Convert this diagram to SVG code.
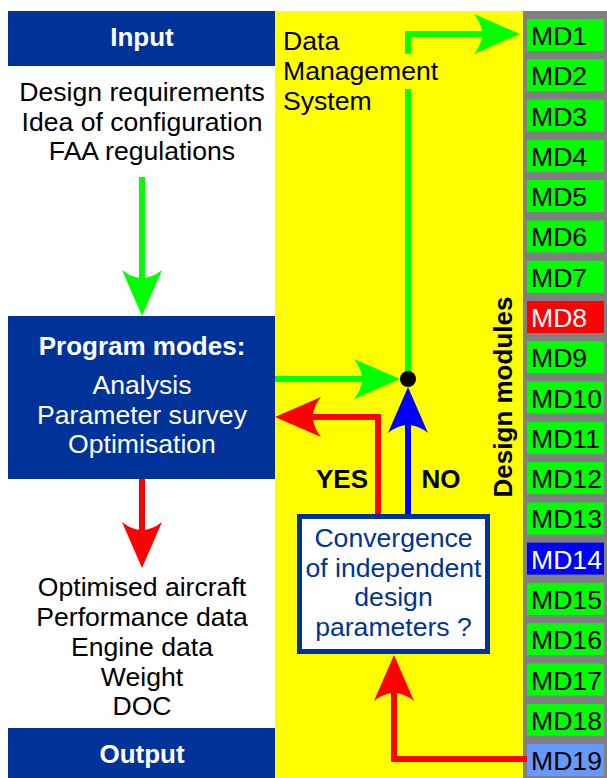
<svg xmlns="http://www.w3.org/2000/svg" width="607" height="778" viewBox="0 0 607 778">
<style>
text{font-family:"Liberation Sans",Arial,sans-serif;font-size:26.6px}
.b{font-weight:bold;font-size:26px}
.w{fill:#fff}
.k{fill:#000}
.c{text-anchor:middle}
.blue{fill:#003399}
.ln{fill:none;stroke-width:6;stroke-linejoin:miter}
</style>
<defs>
<marker id="hg" markerUnits="userSpaceOnUse" markerWidth="50" markerHeight="44" refX="10" refY="22" orient="auto" overflow="visible"><path d="M46 22 L0 2 Q16 22 0 42 Z" fill="#00ff00"/></marker>
<marker id="hr" markerUnits="userSpaceOnUse" markerWidth="50" markerHeight="44" refX="10" refY="22" orient="auto" overflow="visible"><path d="M46 22 L0 2 Q16 22 0 42 Z" fill="#ff0000"/></marker>
<marker id="hb" markerUnits="userSpaceOnUse" markerWidth="50" markerHeight="44" refX="10" refY="22" orient="auto" overflow="visible"><path d="M46 22 L0 2 Q16 22 0 42 Z" fill="#0000ff"/></marker>
</defs>
<rect width="607" height="778" fill="#fff"/>
<g id="dms">
<rect x="275" y="11" width="248" height="767" fill="#ffff00"/>
</g>
<g id="modules-bg"><rect x="523" y="11" width="84" height="767" fill="#808080"/></g>
<g id="connectors">
<path class="ln" stroke="#00ff00" d="M142 177 V280" marker-end="url(#hg)"/>
<path class="ln" stroke="#00ff00" d="M275 379 H364" marker-end="url(#hg)"/>
<path class="ln" stroke="#00ff00" d="M408 379 V34 H484" marker-end="url(#hg)"/>
<path class="ln" stroke="#0000ff" d="M408 514 V423" marker-end="url(#hb)"/>
<path class="ln" stroke="#ff0000" d="M378 514 V417 H311" marker-end="url(#hr)"/>
<path class="ln" stroke="#ff0000" d="M142 479 V532" marker-end="url(#hr)"/>
<path class="ln" stroke="#ff0000" d="M527 759 H394 V691" marker-end="url(#hr)"/>
<circle cx="408" cy="379" r="8" fill="#000"/>
<text class="b k c" x="342" y="488">YES</text>
<text class="b k c" x="441" y="488">NO</text>
</g>
<g id="dms-label">
<rect x="283" y="54" width="158" height="35" fill="#ffff00"/>
<text class="k" x="283" y="50">Data</text>
<text class="k" x="283" y="80">Management</text>
<text class="k" x="283" y="110">System</text>
<text class="b k c" transform="translate(512 397) rotate(-90)">Design modules</text>
</g>
<g id="input">
<rect x="8" y="11" width="267" height="55" fill="#003399"/>
<text class="b w c" x="142" y="46">Input</text>
<text class="k c" x="142" y="101">Design requirements</text>
<text class="k c" x="142" y="131">Idea of configuration</text>
<text class="k c" x="142" y="160">FAA regulations</text>
</g>
<g id="program-modes">
<rect x="8" y="316" width="267" height="163" fill="#003399"/>
<text class="b w c" x="142" y="355">Program modes:</text>
<text class="w c" x="142" y="394">Analysis</text>
<text class="w c" x="142" y="424">Parameter survey</text>
<text class="w c" x="142" y="453">Optimisation</text>
</g>
<g id="output">
<text class="k c" x="142" y="596">Optimised aircraft</text>
<text class="k c" x="142" y="626">Performance data</text>
<text class="k c" x="142" y="656">Engine data</text>
<text class="k c" x="142" y="686">Weight</text>
<text class="k c" x="142" y="715">DOC</text>
<rect x="8" y="728" width="267" height="50" fill="#003399"/>
<text class="b w c" x="142" y="763">Output</text>
</g>
<g id="convergence">
<rect x="299.5" y="516.5" width="188" height="135" fill="#fff" stroke="#003399" stroke-width="5"/>
<text class="blue c" x="393.5" y="547">Convergence</text>
<text class="blue c" x="393.5" y="577">of independent</text>
<text class="blue c" x="393.5" y="606">design</text>
<text class="blue c" x="393.5" y="636">parameters ?</text>
</g>
<g id="md1"><rect x="527" y="19" width="77" height="32" fill="#00ff00"/><text class="k" x="531" y="45">MD1</text></g>
<g id="md2"><rect x="527" y="59.3" width="77" height="32" fill="#00ff00"/><text class="k" x="531" y="85.3">MD2</text></g>
<g id="md3"><rect x="527" y="99.6" width="77" height="32" fill="#00ff00"/><text class="k" x="531" y="125.6">MD3</text></g>
<g id="md4"><rect x="527" y="139.8" width="77" height="32" fill="#00ff00"/><text class="k" x="531" y="165.8">MD4</text></g>
<g id="md5"><rect x="527" y="180.1" width="77" height="32" fill="#00ff00"/><text class="k" x="531" y="206.1">MD5</text></g>
<g id="md6"><rect x="527" y="220.4" width="77" height="32" fill="#00ff00"/><text class="k" x="531" y="246.4">MD6</text></g>
<g id="md7"><rect x="527" y="260.7" width="77" height="32" fill="#00ff00"/><text class="k" x="531" y="286.7">MD7</text></g>
<g id="md8"><rect x="527" y="301" width="77" height="32" fill="#ff0000"/><text class="w" x="531" y="327">MD8</text></g>
<g id="md9"><rect x="527" y="341.2" width="77" height="32" fill="#00ff00"/><text class="k" x="531" y="367.2">MD9</text></g>
<g id="md10"><rect x="527" y="381.5" width="77" height="32" fill="#00ff00"/><text class="k" x="531" y="407.5">MD10</text></g>
<g id="md11"><rect x="527" y="421.8" width="77" height="32" fill="#00ff00"/><text class="k" x="531" y="447.8">MD11</text></g>
<g id="md12"><rect x="527" y="462.1" width="77" height="32" fill="#00ff00"/><text class="k" x="531" y="488.1">MD12</text></g>
<g id="md13"><rect x="527" y="502.4" width="77" height="32" fill="#00ff00"/><text class="k" x="531" y="528.4">MD13</text></g>
<g id="md14"><rect x="527" y="542.6" width="77" height="32" fill="#0000ff"/><text class="w" x="531" y="568.6">MD14</text></g>
<g id="md15"><rect x="527" y="582.9" width="77" height="32" fill="#00ff00"/><text class="k" x="531" y="608.9">MD15</text></g>
<g id="md16"><rect x="527" y="623.2" width="77" height="32" fill="#00ff00"/><text class="k" x="531" y="649.2">MD16</text></g>
<g id="md17"><rect x="527" y="663.5" width="77" height="32" fill="#00ff00"/><text class="k" x="531" y="689.5">MD17</text></g>
<g id="md18"><rect x="527" y="703.8" width="77" height="32" fill="#00ff00"/><text class="k" x="531" y="729.8">MD18</text></g>
<g id="md19"><rect x="527" y="744" width="77" height="32" fill="#6699ff"/><text class="k" x="531" y="770">MD19</text></g>
</svg>
